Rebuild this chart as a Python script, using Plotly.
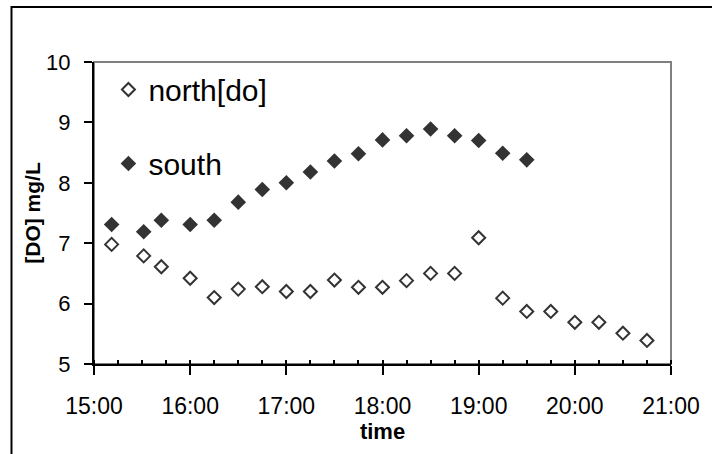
import plotly.graph_objects as go

DAY = "2000-01-01 "

north_times = ["15:11", "15:31", "15:42", "16:00", "16:15", "16:30", "16:45", "17:00",
               "17:15", "17:30", "17:45", "18:00", "18:15", "18:30", "18:45", "19:00",
               "19:15", "19:30", "19:45", "20:00", "20:15", "20:30", "20:45"]
north_do = [6.98, 6.79, 6.61, 6.42, 6.10, 6.24, 6.28, 6.20,
            6.20, 6.39, 6.27, 6.27, 6.38, 6.50, 6.50, 7.09,
            6.09, 5.87, 5.87, 5.69, 5.69, 5.51, 5.39]

south_times = ["15:11", "15:31", "15:42", "16:00", "16:15", "16:30", "16:45", "17:00",
               "17:15", "17:30", "17:45", "18:00", "18:15", "18:30", "18:45", "19:00",
               "19:15", "19:30"]
south_do = [7.31, 7.19, 7.38, 7.31, 7.38, 7.68, 7.89, 8.00,
            8.18, 8.36, 8.48, 8.71, 8.78, 8.89, 8.78, 8.70,
            8.49, 8.38]

x_title = "time"
y_title = "[DO] mg/L"

FONT = "Liberation Sans, Arial, sans-serif"
DARK = "#333333"

fig = go.Figure()
fig.add_trace(go.Scatter(
    x=[DAY + t for t in north_times], y=north_do, mode="markers", name="north[do]",
    legendgroup="n",
    marker=dict(symbol="diamond-open", size=10, color=DARK, line=dict(width=2, color=DARK)),
))
fig.add_trace(go.Scatter(
    x=[DAY + t for t in south_times], y=south_do, mode="markers", name="south",
    legendgroup="s",
    marker=dict(symbol="diamond", size=12, color=DARK),
))

# plot-area frame (grey), outer chart frame (black)
fig.add_shape(type="rect", xref="paper", yref="paper", x0=0, x1=1, y0=0, y1=1,
              line=dict(color="#808080", width=2), layer="below")
fig.add_shape(type="rect", xref="paper", yref="paper", x0=-0.143, x1=1.12, y0=-0.45, y1=1.182,
              line=dict(color="black", width=2), layer="below")

fig.update_layout(
    width=712, height=454,
    margin=dict(l=94, r=29, t=62, b=90),
    paper_bgcolor="white", plot_bgcolor="white",
    font=dict(family=FONT, color="black"),
    showlegend=True,
    legend=dict(x=0.025, y=0.995, xanchor="left", yanchor="top",
                font=dict(size=30, family=FONT, color="black"),
                bgcolor="rgba(0,0,0,0)", tracegroupgap=32, traceorder="grouped"),
    xaxis=dict(
        type="date", range=[DAY + "15:00", DAY + "21:00"],
        tickformat="%H:%M", dtick=3600000, tick0=DAY + "15:00",
        showgrid=False, zeroline=False,
        showline=True, linecolor="black", linewidth=2,
        ticks="outside", ticklen=9, tickwidth=2, tickcolor="black",
        tickfont=dict(size=23, family=FONT, color="black"),
        ticklabelstandoff=11,
        minor=dict(dtick=900000, tick0=DAY + "15:00", ticks="inside", ticklen=4, tickwidth=2, tickcolor="black", showgrid=False),
        title=dict(text="<b>" + x_title + "</b>", font=dict(size=22, family=FONT, color="black"), standoff=4),
    ),
    yaxis=dict(
        range=[5, 10], dtick=1, tick0=5,
        showgrid=False, zeroline=False,
        showline=True, linecolor="black", linewidth=2,
        ticks="outside", ticklen=8, tickwidth=2, tickcolor="black",
        tickfont=dict(size=22, family=FONT, color="black"),
        ticklabelstandoff=9,
        title=dict(text="<b>" + y_title + "</b>", font=dict(size=21, family=FONT, color="black"), standoff=0),
    ),
)

fig.write_html("out.html")
